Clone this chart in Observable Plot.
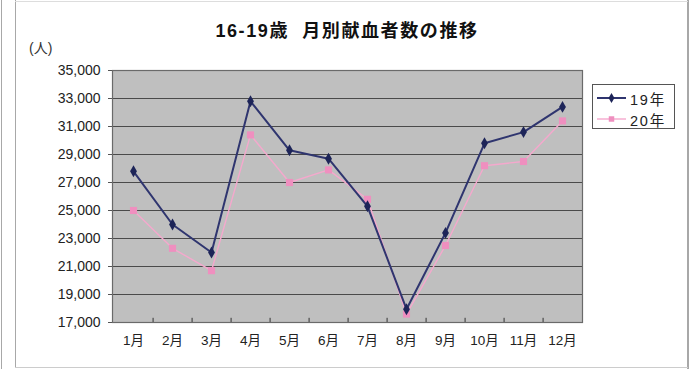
<!DOCTYPE html>
<html>
<head>
<meta charset="utf-8">
<script src="https://cdn.jsdelivr.net/npm/d3@7"></script>
<script src="https://cdn.jsdelivr.net/npm/@observablehq/plot@0.6"></script>
<style>
  body { margin: 0; background: #fff; }
  #chart { position: relative; width: 690px; height: 369px; overflow: hidden;
           font-family: "Liberation Sans", "Noto Sans CJK JP", sans-serif; color: #222; }
  #chart svg.plot { position: absolute; left: 0; top: 0; }
  .edge { position: absolute; background: #a8a8a8; }
  #title { position: absolute; left: 0; width: 694px; top: 16px; text-align: center;
           font-family: "Liberation Sans", "Noto Sans CJK JP", sans-serif;
           font-weight: 700; font-size: 18px; letter-spacing: 1.6px; color: #111; }
  #unit { position: absolute; left: 29px; top: 37px; font-size: 14px; color: #333; }
  #legend { position: absolute; left: 592px; top: 84px; width: 83px; height: 45px;
            border: 1px solid #555; background: #fff; box-sizing: border-box; }
  #legend .row { position: absolute; left: 4px; height: 20px; display: flex; align-items: center; }
  #legend .row span { font-size: 14.5px; letter-spacing: 1.8px; margin-left: 4px; color: #222; }
</style>
</head>
<body>
<div id="chart">
  <div class="edge" style="left:1px;top:0;width:1px;height:369px"></div>
  <div class="edge" style="left:15px;top:0;width:1px;height:368px"></div>
  <div class="edge" style="left:687px;top:0;width:2px;height:369px"></div>
  <div class="edge" style="left:15px;top:1px;width:673px;height:1px;background:#ddd"></div>
  <div class="edge" style="left:15px;top:367px;width:673px;height:1px;background:#ccc"></div>
  <div id="title">16-19歳&nbsp;&nbsp;月別献血者数の推移</div>
  <div id="unit">(人)</div>
  <div id="legend"></div>
</div>
<script>
// Monthly blood donors aged 16-19
const months = ["1月","2月","3月","4月","5月","6月","7月","8月","9月","10月","11月","12月"];
const seriesNames = ["19年", "20年"];
const donors19 = [27800, 24000, 22000, 32800, 29300, 28700, 25300, 17950, 23400, 29800, 30600, 32400];
const donors20 = [25000, 22300, 20700, 30400, 27000, 27900, 25800, 17600, 22500, 28200, 28500, 31400];
const yTicks = [17000, 19000, 21000, 23000, 25000, 27000, 29000, 31000, 33000, 35000];

const colors = { line19: "#2f356f", dot19: "#1d2458", line20: "#f5a8cd", dot20: "#ef8fbf" };

const rows19 = months.map((m, i) => ({ month: m, value: donors19[i] }));
const rows20 = months.map((m, i) => ({ month: m, value: donors20[i] }));

const W = 690, H = 369;
const margin = { left: 112, right: 108, top: 70, bottom: 47 };
const step = (W - margin.left - margin.right) / months.length;

const plot = Plot.plot({
  width: W,
  height: H,
  marginLeft: margin.left,
  marginRight: margin.right,
  marginTop: margin.top,
  marginBottom: margin.bottom,
  style: { background: "transparent", fontFamily: "Liberation Sans, Noto Sans CJK JP, sans-serif" },
  x: { type: "point", domain: months, padding: 0.5 },
  y: { domain: [17000, 35000] },
  marks: [
    Plot.frame({ fill: "#bfbfbf", stroke: null }),
    Plot.ruleY(yTicks.slice(1, -1), { stroke: "#4a4a4a", strokeWidth: 1.2 }),
    // small tick marks between months along the bottom edge
    Plot.ruleX(months.slice(0, -1), { x: d => d, dx: step / 2, y1: 17000, y2: 17300, stroke: "#333" }),
    Plot.frame({ stroke: "#6a6a6a", strokeWidth: 1.2 }),
    Plot.axisY(yTicks, {
      tickSize: 4, tickPadding: 8, fontSize: 14, stroke: "#555",
      tickFormat: d3.format(","), label: null, fill: "#222"
    }),
    Plot.axisX({ tickSize: 0, tickPadding: 13, fontSize: 13.5, label: null, fill: "#222" }),
    Plot.line(rows20, { x: "month", y: "value", stroke: colors.line20, strokeWidth: 1.4 }),
    Plot.dot(rows20, { x: "month", y: "value", symbol: "square", r: 4, fill: colors.dot20, stroke: null }),
    Plot.line(rows19, { x: "month", y: "value", stroke: colors.line19, strokeWidth: 2 }),
    Plot.dot(rows19, { x: "month", y: "value", symbol: "diamond", r: 3.6, fill: colors.dot19, stroke: null })
  ]
});
plot.classList.add("plot");
document.getElementById("chart").insertBefore(plot, document.getElementById("title"));

// legend
const legend = d3.select("#legend");
const legendStyles = [
  { line: colors.line19, dot: colors.dot19, symbol: d3.symbolDiamond, width: 2 },
  { line: colors.line20, dot: colors.dot20, symbol: d3.symbolSquare, width: 1.4 }
];
seriesNames.forEach((name, i) => {
  const row = legend.append("div").attr("class", "row").style("top", (3 + i * 21) + "px");
  const s = row.append("svg").attr("width", 29).attr("height", 12);
  s.append("line").attr("x1", 0).attr("x2", 29).attr("y1", 6).attr("y2", 6)
    .attr("stroke", legendStyles[i].line).attr("stroke-width", legendStyles[i].width);
  s.append("path").attr("transform", "translate(14.5,6)")
    .attr("d", d3.symbol(legendStyles[i].symbol, 30)())
    .attr("fill", legendStyles[i].dot);
  row.append("span").text(name);
});
</script>
</body>
</html>
